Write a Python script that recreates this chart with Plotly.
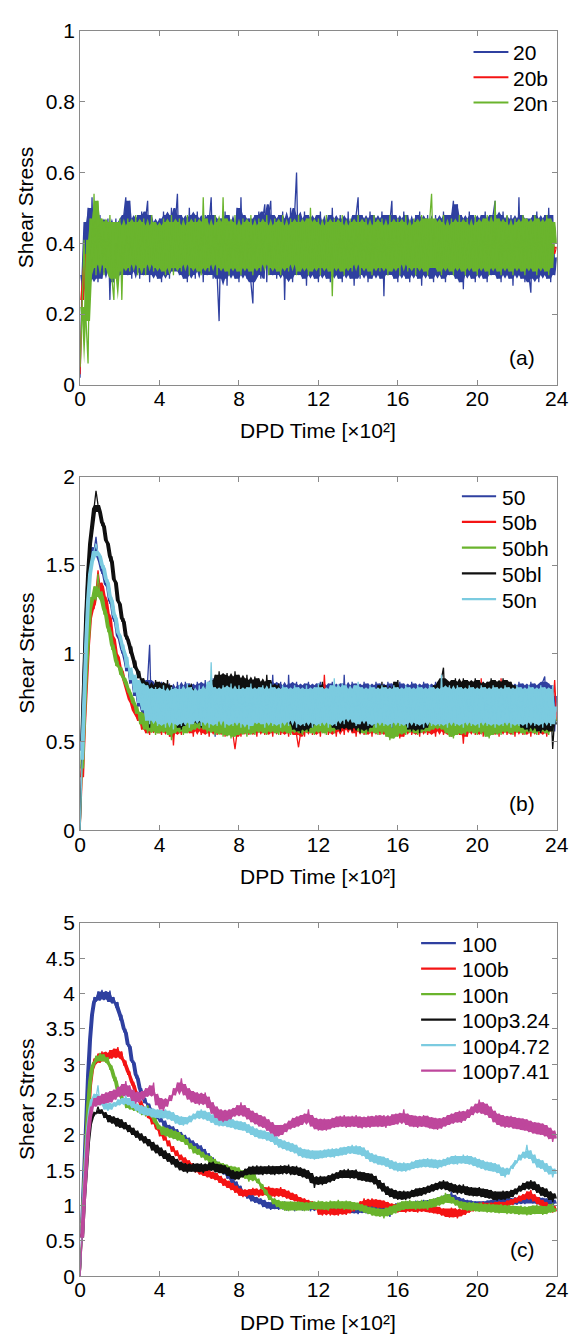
import numpy as np
import plotly.graph_objects as go

# DPD time samples (units of 10^2), one every 0.1
TIME = np.round(np.arange(241) * 0.1, 1)

# ---------------- panel (a): shear rate 20 ----------------
S20 = [
    0.02, 0.31, 0.46, 0.27, 0.50, 0.28, 0.53, 0.30, 0.47, 0.29,
    0.48, 0.30, 0.46, 0.32, 0.47, 0.24, 0.45, 0.29, 0.47, 0.31,
    0.46, 0.30, 0.48, 0.53, 0.31, 0.52, 0.30, 0.47, 0.32, 0.48,
    0.30, 0.49, 0.31, 0.47, 0.52, 0.29, 0.48, 0.31, 0.46, 0.30,
    0.47, 0.29, 0.49, 0.31, 0.48, 0.30, 0.50, 0.32, 0.46, 0.54,
    0.31, 0.48, 0.30, 0.47, 0.29, 0.50, 0.31, 0.48, 0.30, 0.49,
    0.32, 0.47, 0.29, 0.48, 0.31, 0.46, 0.53, 0.30, 0.48, 0.31,
    0.18, 0.47, 0.30, 0.49, 0.28, 0.48, 0.31, 0.46, 0.30, 0.50,
    0.29, 0.53, 0.31, 0.48, 0.30, 0.47, 0.29, 0.23, 0.48, 0.31,
    0.49, 0.30, 0.47, 0.51, 0.29, 0.48, 0.52, 0.31, 0.47, 0.30,
    0.48, 0.31, 0.49, 0.24, 0.47, 0.30, 0.50, 0.29, 0.48, 0.60,
    0.31, 0.47, 0.30, 0.49, 0.28, 0.48, 0.31, 0.47, 0.30, 0.48,
    0.29, 0.49, 0.31, 0.46, 0.30, 0.48, 0.29, 0.50, 0.31, 0.47,
    0.30, 0.48, 0.29, 0.47, 0.31, 0.49, 0.30, 0.46, 0.28, 0.48,
    0.53, 0.30, 0.48, 0.31, 0.47, 0.29, 0.49, 0.30, 0.48, 0.31,
    0.47, 0.30, 0.49, 0.25, 0.48, 0.31, 0.46, 0.52, 0.30, 0.48,
    0.29, 0.47, 0.31, 0.49, 0.30, 0.48, 0.29, 0.46, 0.31, 0.48,
    0.30, 0.49, 0.28, 0.47, 0.31, 0.48, 0.30, 0.46, 0.29, 0.48,
    0.31, 0.47, 0.30, 0.49, 0.29, 0.48, 0.31, 0.47, 0.52, 0.30,
    0.51, 0.29, 0.48, 0.27, 0.47, 0.31, 0.49, 0.30, 0.48, 0.29,
    0.47, 0.31, 0.48, 0.30, 0.49, 0.29, 0.47, 0.31, 0.48, 0.52,
    0.30, 0.48, 0.29, 0.49, 0.31, 0.47, 0.30, 0.48, 0.28, 0.47,
    0.31, 0.53, 0.30, 0.48, 0.29, 0.47, 0.31, 0.26, 0.48, 0.30,
    0.49, 0.29, 0.47, 0.31, 0.48, 0.30, 0.50, 0.29, 0.48, 0.31,
    0.36,
]
S20B = [
    0.03, 0.24, 0.37, 0.31, 0.40, 0.37, 0.41, 0.38, 0.40, 0.37,
    0.41, 0.38, 0.40, 0.37, 0.41, 0.38, 0.40, 0.37, 0.41, 0.38,
    0.40, 0.38, 0.41, 0.37, 0.40, 0.38, 0.41, 0.37, 0.40, 0.38,
    0.41, 0.37, 0.40, 0.38, 0.41, 0.37, 0.40, 0.38, 0.41, 0.37,
    0.40, 0.38, 0.41, 0.37, 0.40, 0.38, 0.41, 0.37, 0.40, 0.38,
    0.41, 0.37, 0.40, 0.38, 0.41, 0.37, 0.40, 0.38, 0.41, 0.37,
    0.40, 0.38, 0.41, 0.37, 0.40, 0.38, 0.41, 0.37, 0.40, 0.38,
    0.41, 0.37, 0.40, 0.38, 0.41, 0.37, 0.40, 0.38, 0.41, 0.37,
    0.40, 0.38, 0.41, 0.37, 0.40, 0.38, 0.41, 0.37, 0.40, 0.38,
    0.41, 0.37, 0.40, 0.38, 0.41, 0.37, 0.40, 0.38, 0.41, 0.37,
    0.40, 0.38, 0.41, 0.37, 0.40, 0.38, 0.41, 0.37, 0.40, 0.38,
    0.41, 0.37, 0.40, 0.38, 0.41, 0.37, 0.40, 0.38, 0.41, 0.37,
    0.40, 0.38, 0.41, 0.37, 0.40, 0.38, 0.41, 0.37, 0.40, 0.38,
    0.41, 0.37, 0.40, 0.38, 0.41, 0.37, 0.40, 0.38, 0.41, 0.37,
    0.40, 0.38, 0.41, 0.37, 0.40, 0.38, 0.41, 0.37, 0.40, 0.38,
    0.41, 0.37, 0.40, 0.38, 0.41, 0.37, 0.40, 0.38, 0.41, 0.37,
    0.40, 0.38, 0.41, 0.37, 0.40, 0.38, 0.41, 0.37, 0.40, 0.38,
    0.41, 0.37, 0.40, 0.38, 0.41, 0.37, 0.40, 0.38, 0.41, 0.37,
    0.40, 0.38, 0.41, 0.37, 0.40, 0.38, 0.41, 0.37, 0.40, 0.38,
    0.41, 0.37, 0.40, 0.38, 0.41, 0.37, 0.40, 0.38, 0.41, 0.37,
    0.40, 0.38, 0.41, 0.37, 0.40, 0.38, 0.41, 0.37, 0.40, 0.38,
    0.41, 0.37, 0.40, 0.38, 0.41, 0.37, 0.40, 0.38, 0.41, 0.37,
    0.40, 0.38, 0.41, 0.37, 0.40, 0.38, 0.41, 0.37, 0.40, 0.38,
    0.41, 0.37, 0.40, 0.38, 0.41, 0.37, 0.40, 0.38, 0.41, 0.37,
    0.39,
]
S20N = [
    0.05, 0.22, 0.41, 0.18, 0.06, 0.47, 0.33, 0.54, 0.31, 0.52,
    0.34, 0.47, 0.31, 0.46, 0.33, 0.48, 0.30, 0.24, 0.46, 0.32,
    0.47, 0.24, 0.45, 0.33, 0.47, 0.32, 0.46, 0.34, 0.48, 0.31,
    0.46, 0.33, 0.47, 0.31, 0.45, 0.34, 0.48, 0.32, 0.46, 0.33,
    0.45, 0.32, 0.47, 0.31, 0.46, 0.33, 0.48, 0.31, 0.46, 0.33,
    0.47, 0.32, 0.45, 0.34, 0.48, 0.31, 0.46, 0.33, 0.47, 0.32,
    0.46, 0.31, 0.53, 0.33, 0.47, 0.32, 0.45, 0.34, 0.48, 0.31,
    0.46, 0.33, 0.53, 0.32, 0.47, 0.31, 0.46, 0.33, 0.48, 0.32,
    0.45, 0.31, 0.47, 0.33, 0.46, 0.32, 0.48, 0.31, 0.45, 0.33,
    0.47, 0.32, 0.46, 0.34, 0.48, 0.31, 0.45, 0.33, 0.47, 0.32,
    0.46, 0.31, 0.48, 0.33, 0.45, 0.32, 0.47, 0.34, 0.46, 0.31,
    0.48, 0.32, 0.46, 0.33, 0.47, 0.31, 0.50, 0.32, 0.46, 0.33,
    0.47, 0.31, 0.45, 0.33, 0.48, 0.32, 0.46, 0.25, 0.47, 0.33,
    0.46, 0.32, 0.48, 0.31, 0.45, 0.33, 0.47, 0.32, 0.46, 0.34,
    0.48, 0.31, 0.46, 0.33, 0.47, 0.32, 0.45, 0.31, 0.48, 0.33,
    0.46, 0.32, 0.47, 0.33, 0.45, 0.31, 0.48, 0.32, 0.46, 0.33,
    0.47, 0.31, 0.46, 0.34, 0.48, 0.32, 0.45, 0.33, 0.47, 0.31,
    0.46, 0.33, 0.48, 0.32, 0.47, 0.31, 0.46, 0.54, 0.33, 0.47,
    0.32, 0.46, 0.31, 0.48, 0.33, 0.45, 0.32, 0.47, 0.31, 0.46,
    0.33, 0.48, 0.32, 0.46, 0.31, 0.47, 0.33, 0.45, 0.32, 0.48,
    0.31, 0.46, 0.33, 0.47, 0.32, 0.48, 0.31, 0.46, 0.33, 0.52,
    0.32, 0.47, 0.31, 0.46, 0.33, 0.48, 0.32, 0.45, 0.31, 0.47,
    0.33, 0.46, 0.32, 0.48, 0.31, 0.47, 0.33, 0.46, 0.32, 0.48,
    0.31, 0.47, 0.33, 0.46, 0.32, 0.48, 0.31, 0.47, 0.33, 0.46,
    0.40,
]

# ---------------- panel (b): shear rate 50 ----------------
S50 = [
    0.00, 0.45, 0.85, 1.15, 1.40, 1.55, 1.60, 1.58, 1.66, 1.55,
    1.52, 1.45, 1.47, 1.38, 1.39, 1.28, 1.30, 1.18, 1.20, 1.10,
    1.08, 1.00, 1.03, 0.90, 0.95, 0.83, 0.90, 0.76, 0.86, 0.70,
    0.84, 0.66, 0.82, 0.62, 0.85, 1.05, 0.60, 0.84, 0.59, 0.82,
    0.61, 0.84, 0.59, 0.82, 0.60, 0.83, 0.58, 0.81, 0.60, 0.84,
    0.59, 0.82, 0.61, 0.84, 0.58, 0.83, 0.60, 0.82, 0.59, 0.84,
    0.61, 0.83, 0.58, 0.85, 0.60, 0.82, 0.59, 0.86, 0.53, 0.83,
    0.60, 0.84, 0.58, 0.82, 0.61, 0.83, 0.59, 0.84, 0.60, 0.82,
    0.58, 0.83, 0.60, 0.84, 0.59, 0.82, 0.61, 0.83, 0.58, 0.84,
    0.60, 0.82, 0.59, 0.83, 0.61, 0.84, 0.58, 0.88, 0.60, 0.83,
    0.59, 0.84, 0.60, 0.82, 0.58, 0.88, 0.61, 0.83, 0.59, 0.84,
    0.60, 0.82, 0.58, 0.83, 0.61, 0.84, 0.59, 0.82, 0.60, 0.83,
    0.58, 0.84, 0.60, 0.82, 0.59, 0.83, 0.61, 0.84, 0.58, 0.82,
    0.60, 0.83, 0.59, 0.88, 0.61, 0.82, 0.58, 0.84, 0.60, 0.83,
    0.59, 0.82, 0.61, 0.84, 0.58, 0.83, 0.60, 0.82, 0.59, 0.84,
    0.61, 0.83, 0.58, 0.82, 0.60, 0.84, 0.59, 0.83, 0.61, 0.82,
    0.58, 0.84, 0.60, 0.83, 0.59, 0.82, 0.61, 0.84, 0.58, 0.83,
    0.60, 0.82, 0.59, 0.84, 0.61, 0.83, 0.58, 0.82, 0.60, 0.84,
    0.59, 0.83, 0.61, 0.82, 0.58, 0.84, 0.60, 0.83, 0.59, 0.82,
    0.61, 0.84, 0.58, 0.83, 0.60, 0.82, 0.59, 0.84, 0.61, 0.83,
    0.58, 0.82, 0.60, 0.84, 0.59, 0.83, 0.61, 0.82, 0.58, 0.84,
    0.60, 0.83, 0.59, 0.82, 0.61, 0.84, 0.58, 0.83, 0.60, 0.82,
    0.59, 0.84, 0.61, 0.83, 0.58, 0.82, 0.60, 0.84, 0.59, 0.83,
    0.61, 0.82, 0.58, 0.84, 0.87, 0.60, 0.83, 0.59, 0.82, 0.56,
    0.76,
]
S50B = [
    0.00, 0.30, 0.60, 0.85, 1.05, 1.20, 1.28, 1.25, 1.35, 1.47,
    1.38, 1.40, 1.30, 1.32, 1.20, 1.22, 1.10, 1.08, 1.00, 0.98,
    0.92, 0.90, 0.85, 0.82, 0.78, 0.74, 0.72, 0.68, 0.66, 0.62,
    0.64, 0.57, 0.66, 0.55, 0.65, 0.54, 0.66, 0.56, 0.65, 0.55,
    0.66, 0.54, 0.65, 0.56, 0.67, 0.53, 0.66, 0.48, 0.65, 0.55,
    0.66, 0.54, 0.64, 0.56, 0.67, 0.55, 0.65, 0.53, 0.66, 0.56,
    0.64, 0.54, 0.66, 0.55, 0.65, 0.53, 0.67, 0.56, 0.64, 0.54,
    0.66, 0.55, 0.65, 0.53, 0.67, 0.56, 0.64, 0.54, 0.46, 0.55,
    0.66, 0.53, 0.65, 0.56, 0.67, 0.54, 0.64, 0.55, 0.66, 0.53,
    0.65, 0.56, 0.67, 0.54, 0.64, 0.55, 0.66, 0.53, 0.65, 0.56,
    0.67, 0.54, 0.64, 0.55, 0.66, 0.53, 0.65, 0.56, 0.67, 0.54,
    0.47, 0.55, 0.66, 0.53, 0.65, 0.56, 0.67, 0.54, 0.64, 0.55,
    0.66, 0.53, 0.65, 0.88, 0.67, 0.54, 0.64, 0.55, 0.66, 0.53,
    0.65, 0.56, 0.67, 0.54, 0.68, 0.57, 0.69, 0.55, 0.66, 0.53,
    0.65, 0.56, 0.67, 0.54, 0.64, 0.55, 0.66, 0.53, 0.65, 0.56,
    0.67, 0.54, 0.64, 0.55, 0.66, 0.53, 0.65, 0.56, 0.67, 0.54,
    0.64, 0.52, 0.66, 0.53, 0.65, 0.56, 0.67, 0.54, 0.64, 0.55,
    0.66, 0.53, 0.65, 0.56, 0.67, 0.54, 0.64, 0.55, 0.66, 0.53,
    0.65, 0.56, 0.67, 0.54, 0.64, 0.55, 0.66, 0.53, 0.65, 0.56,
    0.67, 0.54, 0.64, 0.49, 0.66, 0.53, 0.65, 0.56, 0.67, 0.54,
    0.64, 0.55, 0.86, 0.53, 0.65, 0.56, 0.67, 0.54, 0.64, 0.55,
    0.66, 0.53, 0.86, 0.56, 0.67, 0.54, 0.64, 0.55, 0.66, 0.53,
    0.65, 0.56, 0.67, 0.54, 0.64, 0.55, 0.66, 0.53, 0.65, 0.56,
    0.67, 0.54, 0.64, 0.55, 0.66, 0.53, 0.65, 0.56, 0.67, 0.85,
    0.62,
]
S50BH = [
    0.00, 0.35, 0.65, 0.90, 1.10, 1.25, 1.32, 1.38, 1.30, 1.45,
    1.32, 1.35, 1.22, 1.25, 1.12, 1.15, 1.02, 1.05, 0.93, 0.96,
    0.88, 0.92, 0.84, 0.86, 0.78, 0.80, 0.72, 0.75, 0.66, 0.70,
    0.60, 0.67, 0.57, 0.66, 0.55, 0.67, 0.56, 0.65, 0.54, 0.66,
    0.55, 0.67, 0.56, 0.65, 0.54, 0.66, 0.51, 0.67, 0.55, 0.65,
    0.56, 0.66, 0.54, 0.67, 0.55, 0.65, 0.56, 0.68, 0.57, 0.70,
    0.58, 0.69, 0.57, 0.67, 0.55, 0.66, 0.56, 0.65, 0.54, 0.66,
    0.55, 0.67, 0.53, 0.65, 0.54, 0.66, 0.52, 0.65, 0.53, 0.67,
    0.54, 0.66, 0.55, 0.65, 0.53, 0.67, 0.55, 0.66, 0.54, 0.65,
    0.56, 0.67, 0.55, 0.66, 0.54, 0.65, 0.56, 0.67, 0.55, 0.66,
    0.54, 0.65, 0.56, 0.67, 0.55, 0.66, 0.54, 0.65, 0.56, 0.67,
    0.55, 0.66, 0.54, 0.65, 0.56, 0.67, 0.55, 0.66, 0.54, 0.65,
    0.56, 0.67, 0.55, 0.66, 0.54, 0.65, 0.56, 0.67, 0.55, 0.66,
    0.57, 0.68, 0.60, 0.70, 0.62, 0.72, 0.60, 0.69, 0.58, 0.67,
    0.56, 0.66, 0.55, 0.67, 0.54, 0.65, 0.56, 0.66, 0.55, 0.67,
    0.54, 0.65, 0.56, 0.66, 0.53, 0.64, 0.51, 0.65, 0.52, 0.64,
    0.53, 0.66, 0.55, 0.67, 0.54, 0.65, 0.56, 0.66, 0.55, 0.67,
    0.54, 0.65, 0.56, 0.66, 0.55, 0.67, 0.56, 0.68, 0.57, 0.69,
    0.58, 0.70, 0.57, 0.68, 0.55, 0.66, 0.53, 0.65, 0.52, 0.64,
    0.54, 0.66, 0.55, 0.67, 0.54, 0.65, 0.56, 0.66, 0.55, 0.67,
    0.54, 0.65, 0.56, 0.66, 0.53, 0.65, 0.52, 0.64, 0.54, 0.66,
    0.55, 0.67, 0.54, 0.65, 0.56, 0.66, 0.55, 0.67, 0.54, 0.65,
    0.56, 0.66, 0.55, 0.67, 0.54, 0.65, 0.56, 0.66, 0.55, 0.67,
    0.54, 0.65, 0.56, 0.66, 0.55, 0.67, 0.54, 0.65, 0.56, 0.66,
    0.62,
]
S50BL = [
    0.00, 0.50, 0.90, 1.20, 1.45, 1.62, 1.72, 1.82, 1.92, 1.84,
    1.80, 1.72, 1.74, 1.64, 1.62, 1.52, 1.55, 1.42, 1.40, 1.30,
    1.28, 1.18, 1.20, 1.08, 1.10, 1.00, 1.04, 0.92, 0.96, 0.86,
    0.90, 0.78, 0.86, 0.70, 0.84, 0.58, 0.82, 0.66, 0.85, 0.68,
    0.84, 0.66, 0.83, 0.65, 0.85, 0.67, 0.82, 0.64, 0.78, 0.58,
    0.76, 0.57, 0.78, 0.59, 0.82, 0.62, 0.83, 0.60, 0.80, 0.61,
    0.78, 0.58, 0.80, 0.62, 0.82, 0.64, 0.85, 0.68, 0.88, 0.70,
    0.90, 0.72, 0.88, 0.70, 0.89, 0.71, 0.87, 0.69, 0.90, 0.72,
    0.88, 0.70, 0.86, 0.68, 0.88, 0.71, 0.85, 0.69, 0.87, 0.70,
    0.86, 0.68, 0.84, 0.67, 0.88, 0.70, 0.85, 0.66, 0.82, 0.64,
    0.83, 0.65, 0.80, 0.62, 0.78, 0.60, 0.76, 0.57, 0.75, 0.56,
    0.74, 0.55, 0.75, 0.57, 0.76, 0.56, 0.78, 0.58, 0.80, 0.60,
    0.82, 0.62, 0.84, 0.64, 0.80, 0.61, 0.78, 0.58, 0.75, 0.57,
    0.74, 0.56, 0.76, 0.58, 0.77, 0.57, 0.75, 0.56, 0.76, 0.58,
    0.74, 0.55, 0.75, 0.57, 0.76, 0.56, 0.78, 0.58, 0.80, 0.60,
    0.82, 0.62, 0.84, 0.63, 0.82, 0.60, 0.80, 0.58, 0.84, 0.62,
    0.85, 0.64, 0.80, 0.60, 0.78, 0.57, 0.76, 0.56, 0.75, 0.57,
    0.76, 0.55, 0.74, 0.57, 0.78, 0.58, 0.80, 0.61, 0.82, 0.63,
    0.84, 0.65, 0.86, 0.92, 0.66, 0.84, 0.64, 0.85, 0.66, 0.86,
    0.67, 0.84, 0.65, 0.86, 0.66, 0.85, 0.64, 0.84, 0.67, 0.86,
    0.65, 0.85, 0.66, 0.83, 0.64, 0.84, 0.65, 0.86, 0.67, 0.85,
    0.66, 0.84, 0.64, 0.86, 0.65, 0.85, 0.66, 0.84, 0.63, 0.82,
    0.61, 0.80, 0.58, 0.78, 0.57, 0.76, 0.56, 0.77, 0.58, 0.75,
    0.56, 0.74, 0.55, 0.76, 0.57, 0.75, 0.56, 0.73, 0.46, 0.64,
    0.60,
]
S50N = [
    0.00, 0.40, 0.75, 1.05, 1.30, 1.45, 1.52, 1.58, 1.62, 1.57,
    1.55, 1.48, 1.50, 1.40, 1.42, 1.30, 1.32, 1.20, 1.22, 1.12,
    1.10, 1.02, 1.05, 0.92, 0.98, 0.85, 0.92, 0.78, 0.88, 0.72,
    0.85, 0.68, 0.83, 0.62, 0.82, 0.60, 0.80, 0.62, 0.81, 0.59,
    0.80, 0.60, 0.82, 0.58, 0.79, 0.61, 0.81, 0.57, 0.80, 0.60,
    0.82, 0.59, 0.80, 0.61, 0.83, 0.58, 0.81, 0.60, 0.79, 0.62,
    0.82, 0.59, 0.80, 0.61, 0.84, 0.58, 0.95, 0.60, 0.81, 0.59,
    0.80, 0.62, 0.82, 0.58, 0.81, 0.60, 0.83, 0.59, 0.80, 0.61,
    0.82, 0.58, 0.80, 0.60, 0.81, 0.57, 0.83, 0.59, 0.80, 0.61,
    0.81, 0.60, 0.82, 0.58, 0.80, 0.61, 0.83, 0.59, 0.81, 0.60,
    0.80, 0.58, 0.82, 0.61, 0.81, 0.59, 0.80, 0.62, 0.82, 0.58,
    0.81, 0.60, 0.80, 0.59, 0.82, 0.61, 0.80, 0.58, 0.81, 0.60,
    0.83, 0.59, 0.81, 0.61, 0.80, 0.58, 0.82, 0.60, 0.86, 0.59,
    0.81, 0.62, 0.83, 0.60, 0.82, 0.63, 0.80, 0.61, 0.82, 0.59,
    0.84, 0.60, 0.81, 0.62, 0.80, 0.59, 0.82, 0.60, 0.81, 0.58,
    0.80, 0.61, 0.82, 0.59, 0.81, 0.60, 0.80, 0.58, 0.82, 0.61,
    0.81, 0.59, 0.80, 0.60, 0.82, 0.58, 0.81, 0.61, 0.80, 0.59,
    0.82, 0.60, 0.81, 0.58, 0.80, 0.61, 0.82, 0.59, 0.81, 0.60,
    0.80, 0.59, 0.88, 0.60, 0.81, 0.58, 0.82, 0.61, 0.80, 0.59,
    0.82, 0.60, 0.81, 0.58, 0.80, 0.61, 0.82, 0.59, 0.81, 0.60,
    0.80, 0.58, 0.82, 0.61, 0.81, 0.59, 0.80, 0.60, 0.82, 0.58,
    0.81, 0.60, 0.80, 0.59, 0.82, 0.61, 0.81, 0.58, 0.80, 0.60,
    0.82, 0.59, 0.81, 0.60, 0.80, 0.58, 0.82, 0.61, 0.81, 0.59,
    0.80, 0.60, 0.82, 0.58, 0.81, 0.61, 0.80, 0.59, 0.82, 0.60,
    0.70,
]

# ---------------- panel (c): shear rate 100 ----------------
S100 = [
    0.00, 0.75, 1.50, 2.20, 2.85, 3.35, 3.70, 3.95, 3.88, 4.03,
    3.90, 4.05, 3.92, 4.02, 3.88, 4.04, 3.86, 3.95, 3.80, 3.88,
    3.62, 3.70, 3.45, 3.50, 3.25, 3.28, 3.02, 3.05, 2.80, 2.85,
    2.60, 2.66, 2.45, 2.52, 2.38, 2.44, 2.30, 2.36, 2.22, 2.30,
    2.18, 2.25, 2.10, 2.20, 2.05, 2.14, 2.02, 2.12, 1.98, 2.08,
    1.95, 2.04, 1.90, 2.00, 1.86, 1.96, 1.84, 1.92, 1.80, 1.88,
    1.76, 1.85, 1.72, 1.80, 1.66, 1.74, 1.60, 1.68, 1.55, 1.62,
    1.50, 1.58, 1.44, 1.52, 1.38, 1.46, 1.32, 1.40, 1.26, 1.34,
    1.20, 1.28, 1.14, 1.22, 1.10, 1.18, 1.06, 1.15, 1.04, 1.12,
    1.02, 1.10, 0.98, 1.08, 0.96, 1.05, 0.94, 1.04, 0.95, 1.05,
    0.94, 1.04, 0.96, 1.06, 0.93, 1.03, 0.95, 1.05, 0.92, 1.02,
    0.94, 1.04, 0.93, 1.03, 0.95, 1.05, 0.92, 1.02, 0.94, 1.04,
    0.91, 1.01, 0.93, 1.03, 0.90, 1.00, 0.92, 1.02, 0.91, 1.01,
    0.89, 0.99, 0.90, 1.00, 0.88, 0.98, 0.90, 1.00, 0.89, 0.99,
    0.88, 0.98, 0.90, 1.00, 0.89, 0.99, 0.91, 1.01, 0.90, 1.00,
    0.92, 1.02, 0.88, 0.98, 0.91, 1.01, 0.84, 1.00, 0.93, 1.03,
    0.94, 1.04, 0.95, 1.05, 0.96, 1.06, 0.94, 1.04, 0.97, 1.07,
    0.96, 1.06, 0.98, 1.08, 0.97, 1.07, 0.99, 1.09, 1.00, 1.10,
    1.02, 1.12, 1.04, 1.14, 1.06, 1.16, 1.08, 1.20, 1.05, 1.15,
    1.02, 1.12, 1.00, 1.10, 0.98, 1.08, 0.97, 1.07, 0.96, 1.06,
    0.95, 1.05, 0.96, 1.06, 0.97, 1.07, 0.98, 1.08, 0.99, 1.09,
    1.00, 1.10, 0.99, 1.09, 1.01, 1.11, 1.00, 1.10, 1.02, 1.12,
    1.01, 1.11, 1.03, 1.13, 1.02, 1.12, 1.04, 1.14, 1.03, 1.13,
    1.02, 1.12, 1.01, 1.11, 1.00, 1.10, 0.99, 1.09, 0.98, 1.08,
    1.03,
]
S100B = [
    0.00, 0.60, 1.20, 1.80, 2.30, 2.70, 2.92, 3.08, 3.00, 3.15,
    3.02, 3.18, 3.04, 3.16, 3.05, 3.20, 3.08, 3.22, 3.10, 3.24,
    3.08, 3.18, 2.98, 3.05, 2.85, 2.90, 2.70, 2.75, 2.55, 2.60,
    2.42, 2.48, 2.32, 2.38, 2.24, 2.30, 2.15, 2.22, 2.08, 2.15,
    1.98, 2.06, 1.92, 2.00, 1.84, 1.92, 1.76, 1.84, 1.70, 1.78,
    1.64, 1.72, 1.60, 1.68, 1.55, 1.64, 1.50, 1.60, 1.47, 1.56,
    1.44, 1.54, 1.42, 1.52, 1.40, 1.50, 1.38, 1.48, 1.36, 1.46,
    1.32, 1.42, 1.28, 1.38, 1.25, 1.35, 1.22, 1.32, 1.18, 1.28,
    1.14, 1.24, 1.12, 1.22, 1.13, 1.23, 1.15, 1.25, 1.14, 1.24,
    1.12, 1.22, 1.14, 1.26, 1.15, 1.27, 1.13, 1.25, 1.12, 1.24,
    1.14, 1.26, 1.12, 1.23, 1.10, 1.21, 1.08, 1.18, 1.06, 1.16,
    1.02, 1.12, 1.00, 1.10, 0.98, 1.08, 0.96, 1.06, 0.94, 1.04,
    0.87, 0.98, 0.86, 0.97, 0.88, 0.98, 0.86, 0.96, 0.87, 0.97,
    0.86, 0.96, 0.88, 0.98, 0.87, 0.97, 0.89, 0.99, 0.92, 1.02,
    0.96, 1.06, 0.98, 1.10, 0.97, 1.08, 0.99, 1.10, 0.98, 1.09,
    0.96, 1.08, 0.97, 1.07, 0.95, 1.05, 0.93, 1.03, 0.92, 1.02,
    0.90, 1.00, 0.91, 1.01, 0.90, 0.99, 0.92, 1.02, 0.91, 1.01,
    0.90, 1.00, 0.92, 1.02, 0.91, 1.01, 0.90, 1.00, 0.89, 0.99,
    0.88, 0.98, 0.86, 0.96, 0.84, 0.95, 0.83, 0.97, 0.84, 0.96,
    0.82, 0.94, 0.85, 0.96, 0.87, 0.98, 0.90, 1.00, 0.92, 1.02,
    0.94, 1.04, 0.95, 1.05, 0.93, 1.03, 0.94, 1.04, 0.95, 1.05,
    0.96, 1.06, 0.95, 1.05, 0.97, 1.07, 0.99, 1.09, 1.01, 1.11,
    1.04, 1.14, 1.06, 1.16, 1.08, 1.20, 1.10, 1.22, 1.06, 1.16,
    1.02, 1.12, 0.98, 1.08, 0.95, 1.05, 0.92, 1.02, 0.90, 1.00,
    0.92,
]
S100N = [
    0.00, 0.65, 1.30, 1.90, 2.40, 2.75, 2.95, 3.02, 3.12, 3.05,
    3.16, 3.04, 3.14, 3.02, 3.10, 2.92, 2.98, 2.76, 2.82, 2.60,
    2.62, 2.46, 2.52, 2.38, 2.48, 2.36, 2.46, 2.34, 2.44, 2.32,
    2.40, 2.28, 2.38, 2.26, 2.42, 2.30, 2.36, 2.18, 2.24, 2.08,
    2.14, 2.00, 2.12, 1.98, 2.10, 1.96, 2.08, 1.94, 2.06, 1.92,
    2.04, 1.90, 2.00, 1.86, 1.94, 1.80, 1.88, 1.74, 1.84, 1.72,
    1.80, 1.68, 1.76, 1.64, 1.72, 1.60, 1.70, 1.58, 1.66, 1.54,
    1.62, 1.50, 1.60, 1.47, 1.58, 1.45, 1.56, 1.44, 1.55, 1.42,
    1.54, 1.40, 1.50, 1.38, 1.46, 1.34, 1.48, 1.36, 1.45, 1.32,
    1.38, 1.24, 1.30, 1.16, 1.22, 1.08, 1.14, 1.02, 1.10, 0.98,
    1.08, 0.95, 1.06, 0.93, 1.05, 0.92, 1.06, 0.94, 1.05, 0.93,
    1.06, 0.94, 1.05, 0.92, 1.04, 0.93, 1.06, 0.95, 1.05, 0.94,
    1.07, 0.95, 1.06, 0.94, 1.05, 0.93, 1.07, 0.96, 1.06, 0.95,
    1.08, 0.96, 1.06, 0.94, 1.07, 0.95, 1.06, 0.93, 1.05, 0.94,
    1.04, 0.92, 1.02, 0.90, 1.00, 0.88, 0.98, 0.86, 0.97, 0.85,
    0.96, 0.84, 0.95, 0.82, 0.97, 0.85, 0.99, 0.87, 1.01, 0.89,
    1.04, 0.92, 1.06, 0.94, 1.07, 0.95, 1.08, 0.96, 1.06, 0.94,
    1.07, 0.95, 1.08, 0.96, 1.06, 0.94, 1.09, 0.97, 1.10, 0.98,
    1.12, 1.00, 1.14, 1.02, 1.18, 1.04, 1.16, 1.03, 1.12, 1.00,
    1.08, 0.96, 1.06, 0.94, 1.05, 0.92, 1.04, 0.93, 1.05, 0.92,
    1.03, 0.91, 1.04, 0.92, 1.02, 0.90, 1.03, 0.91, 1.02, 0.90,
    1.01, 0.89, 1.02, 0.90, 1.00, 0.88, 1.01, 0.89, 1.00, 0.88,
    0.99, 0.87, 1.00, 0.88, 0.98, 0.86, 0.99, 0.87, 1.00, 0.88,
    1.01, 0.89, 1.00, 0.87, 0.99, 0.88, 1.02, 0.90, 1.03, 0.91,
    0.96,
]
S100P324 = [
    0.00, 0.55, 1.10, 1.55, 1.90, 2.15, 2.25, 2.32, 2.30, 2.40,
    2.30, 2.36, 2.24, 2.32, 2.18, 2.28, 2.16, 2.26, 2.12, 2.24,
    2.10, 2.22, 2.08, 2.18, 2.04, 2.14, 2.00, 2.10, 1.96, 2.06,
    1.92, 2.02, 1.88, 1.98, 1.84, 1.94, 1.78, 1.90, 1.74, 1.86,
    1.70, 1.82, 1.66, 1.78, 1.62, 1.74, 1.58, 1.70, 1.54, 1.66,
    1.50, 1.62, 1.48, 1.60, 1.46, 1.58, 1.48, 1.60, 1.47, 1.59,
    1.48, 1.60, 1.46, 1.58, 1.49, 1.61, 1.50, 1.62, 1.47, 1.59,
    1.46, 1.58, 1.45, 1.57, 1.42, 1.54, 1.38, 1.50, 1.36, 1.48,
    1.37, 1.49, 1.40, 1.52, 1.43, 1.55, 1.44, 1.56, 1.45, 1.57,
    1.44, 1.56, 1.43, 1.55, 1.45, 1.57, 1.44, 1.56, 1.43, 1.55,
    1.45, 1.57, 1.44, 1.56, 1.46, 1.58, 1.43, 1.55, 1.44, 1.56,
    1.42, 1.54, 1.40, 1.52, 1.38, 1.50, 1.32, 1.46, 1.25, 1.40,
    1.30, 1.42, 1.29, 1.41, 1.31, 1.43, 1.33, 1.45, 1.35, 1.47,
    1.38, 1.50, 1.39, 1.51, 1.40, 1.52, 1.38, 1.50, 1.39, 1.51,
    1.36, 1.48, 1.35, 1.47, 1.34, 1.46, 1.33, 1.45, 1.30, 1.42,
    1.24, 1.36, 1.20, 1.32, 1.15, 1.27, 1.12, 1.24, 1.10, 1.22,
    1.08, 1.20, 1.09, 1.21, 1.08, 1.20, 1.10, 1.22, 1.12, 1.24,
    1.13, 1.25, 1.14, 1.26, 1.16, 1.28, 1.18, 1.30, 1.20, 1.32,
    1.22, 1.34, 1.24, 1.36, 1.22, 1.34, 1.20, 1.32, 1.18, 1.30,
    1.16, 1.28, 1.18, 1.30, 1.15, 1.27, 1.14, 1.26, 1.13, 1.25,
    1.14, 1.26, 1.12, 1.24, 1.11, 1.23, 1.10, 1.22, 1.08, 1.20,
    1.07, 1.19, 1.09, 1.21, 1.08, 1.20, 1.10, 1.22, 1.12, 1.24,
    1.16, 1.28, 1.20, 1.32, 1.22, 1.34, 1.24, 1.36, 1.22, 1.34,
    1.18, 1.30, 1.14, 1.26, 1.12, 1.24, 1.08, 1.20, 1.05, 1.17,
    1.10,
]
S100P472 = [
    0.00, 0.60, 1.20, 1.70, 2.10, 2.35, 2.50, 2.58, 2.52, 2.70,
    2.42, 2.48, 2.36, 2.46, 2.34, 2.44, 2.36, 2.46, 2.40, 2.50,
    2.42, 2.52, 2.44, 2.56, 2.42, 2.52, 2.38, 2.48, 2.34, 2.44,
    2.30, 2.42, 2.28, 2.40, 2.27, 2.38, 2.25, 2.37, 2.24, 2.36,
    2.23, 2.35, 2.24, 2.36, 2.22, 2.34, 2.20, 2.32, 2.16, 2.28,
    2.14, 2.26, 2.13, 2.25, 2.15, 2.27, 2.18, 2.30, 2.22, 2.34,
    2.24, 2.36, 2.22, 2.34, 2.20, 2.32, 2.17, 2.29, 2.14, 2.26,
    2.12, 2.24, 2.13, 2.25, 2.11, 2.23, 2.10, 2.22, 2.08, 2.20,
    2.07, 2.19, 2.06, 2.18, 2.03, 2.15, 2.00, 2.12, 1.97, 2.09,
    1.95, 2.07, 1.94, 2.06, 1.92, 2.04, 1.90, 2.02, 1.86, 1.98,
    1.82, 1.94, 1.80, 1.92, 1.78, 1.90, 1.76, 1.88, 1.74, 1.86,
    1.70, 1.82, 1.68, 1.80, 1.67, 1.79, 1.66, 1.78, 1.65, 1.77,
    1.66, 1.78, 1.67, 1.79, 1.68, 1.80, 1.69, 1.81, 1.68, 1.80,
    1.70, 1.82, 1.71, 1.83, 1.72, 1.84, 1.74, 1.86, 1.73, 1.85,
    1.72, 1.84, 1.70, 1.82, 1.66, 1.78, 1.62, 1.74, 1.60, 1.72,
    1.58, 1.70, 1.57, 1.69, 1.55, 1.67, 1.52, 1.64, 1.50, 1.62,
    1.48, 1.60, 1.49, 1.61, 1.48, 1.60, 1.50, 1.62, 1.52, 1.64,
    1.53, 1.65, 1.54, 1.66, 1.55, 1.67, 1.54, 1.66, 1.53, 1.65,
    1.52, 1.64, 1.54, 1.66, 1.56, 1.68, 1.58, 1.70, 1.59, 1.71,
    1.58, 1.70, 1.60, 1.72, 1.59, 1.71, 1.58, 1.70, 1.56, 1.68,
    1.54, 1.66, 1.52, 1.64, 1.50, 1.62, 1.49, 1.61, 1.48, 1.60,
    1.46, 1.58, 1.42, 1.54, 1.40, 1.52, 1.44, 1.56, 1.52, 1.64,
    1.60, 1.72, 1.64, 1.76, 1.68, 1.86, 1.66, 1.78, 1.60, 1.72,
    1.54, 1.66, 1.52, 1.64, 1.48, 1.60, 1.44, 1.56, 1.40, 1.52,
    1.45,
]
S100P741 = [
    0.00, 0.55, 1.10, 1.60, 2.00, 2.25, 2.40, 2.52, 2.40, 2.55,
    2.42, 2.58, 2.44, 2.60, 2.45, 2.62, 2.46, 2.64, 2.50, 2.68,
    2.54, 2.72, 2.56, 2.76, 2.54, 2.70, 2.48, 2.64, 2.44, 2.60,
    2.46, 2.62, 2.50, 2.66, 2.54, 2.70, 2.56, 2.74, 2.42, 2.58,
    2.36, 2.52, 2.34, 2.50, 2.40, 2.56, 2.48, 2.66, 2.56, 2.74,
    2.62, 2.80, 2.56, 2.72, 2.50, 2.66, 2.46, 2.62, 2.44, 2.60,
    2.42, 2.58, 2.44, 2.60, 2.38, 2.54, 2.30, 2.46, 2.24, 2.40,
    2.20, 2.36, 2.18, 2.34, 2.20, 2.36, 2.22, 2.38, 2.26, 2.42,
    2.28, 2.46, 2.26, 2.42, 2.22, 2.38, 2.18, 2.34, 2.15, 2.31,
    2.12, 2.28, 2.10, 2.26, 2.06, 2.22, 2.02, 2.18, 1.98, 2.14,
    1.98, 2.14, 2.00, 2.16, 2.04, 2.20, 2.08, 2.24, 2.10, 2.26,
    2.12, 2.28, 2.14, 2.30, 2.18, 2.36, 2.12, 2.28, 2.08, 2.24,
    2.06, 2.22, 2.07, 2.23, 2.06, 2.22, 2.08, 2.24, 2.10, 2.26,
    2.11, 2.27, 2.12, 2.28, 2.10, 2.26, 2.11, 2.27, 2.12, 2.28,
    2.10, 2.26, 2.09, 2.25, 2.11, 2.27, 2.10, 2.26, 2.12, 2.28,
    2.11, 2.27, 2.12, 2.28, 2.10, 2.26, 2.13, 2.29, 2.14, 2.30,
    2.15, 2.31, 2.18, 2.36, 2.14, 2.30, 2.12, 2.28, 2.11, 2.27,
    2.10, 2.26, 2.12, 2.28, 2.11, 2.27, 2.09, 2.25, 2.08, 2.24,
    2.07, 2.23, 2.09, 2.25, 2.12, 2.28, 2.14, 2.30, 2.16, 2.32,
    2.18, 2.34, 2.17, 2.33, 2.20, 2.36, 2.24, 2.40, 2.28, 2.44,
    2.32, 2.50, 2.30, 2.46, 2.28, 2.44, 2.24, 2.40, 2.18, 2.34,
    2.14, 2.30, 2.12, 2.28, 2.10, 2.26, 2.11, 2.27, 2.09, 2.25,
    2.08, 2.24, 2.07, 2.23, 2.06, 2.22, 2.04, 2.20, 2.02, 2.18,
    2.01, 2.17, 2.00, 2.16, 1.98, 2.14, 1.94, 2.10, 1.90, 2.06,
    1.95,
]

# series names, colours and tick labels per panel
NAMES_A = ["20", "20b", "20n"]
NAMES_B = ["50", "50b", "50bh", "50bl", "50n"]
NAMES_C = ["100", "100b", "100n", "100p3.24", "100p4.72", "100p7.41"]
X_TICKS = [0, 4, 8, 12, 16, 20, 24]
Y_TICKS_A = [0, 0.2, 0.4, 0.6, 0.8, 1]
Y_TICKS_B = [0, 0.5, 1, 1.5, 2]
Y_TICKS_C = [0, 0.5, 1, 1.5, 2, 2.5, 3, 3.5, 4, 4.5, 5]
X_TITLE = "DPD Time [\u00d710\u00b2]"
Y_TITLE = "Shear Stress"

BLUE, RED, GREEN = "#2F40A0", "#F41414", "#6AB42D"
BLACK, CYAN, MAGENTA = "#101010", "#7BCBE0", "#BE479C"
FRAME = "#8A8A8A"
FONT = "Liberation Sans, Arial, Helvetica, sans-serif"

PANELS = [
    dict(series=[S20, S20B, S20N], names=NAMES_A, colors=[BLUE, RED, GREEN],
         yticks=Y_TICKS_A, yrange=[0, 1], tag="(a)"),
    dict(series=[S50, S50B, S50BH, S50BL, S50N], names=NAMES_B,
         colors=[BLUE, RED, GREEN, BLACK, CYAN],
         yticks=Y_TICKS_B, yrange=[0, 2], tag="(b)"),
    dict(series=[S100, S100B, S100N, S100P324, S100P472, S100P741],
         names=NAMES_C, colors=[BLUE, RED, GREEN, BLACK, CYAN, MAGENTA],
         yticks=Y_TICKS_C, yrange=[0, 5], tag="(c)"),
]
for p in PANELS:
    for s in p["series"]:
        assert len(s) == len(TIME), len(s)

# page geometry (pixels)
W, H = 580, 1342
X_LEFT, X_RIGHT = 76.5, 568.3
FRAMES_Y = [(19.3, 379.3), (472.7, 832.7), (926.7, 1286.3)]
LEGEND_GEOM = [  # line start, line end, text x, first row y, row step
    (482.5, 518.5, 521.5, 40.7, 25.7),
    (470.5, 505.8, 509.8, 492.7, 26.15),
    (428.4, 464.3, 468.8, 947.3, 25.95),
]


def px(x):
    return x / W


def py(y):
    return 1 - y / H


def noise_core(vals):
    """Inner band of a noisy signal: 2nd largest / 2nd smallest sample
    of each 5-sample window (isolated spikes are left to the line)."""
    v = np.asarray(vals, dtype=float)
    hi, lo = np.empty_like(v), np.empty_like(v)
    for i in range(len(v)):
        w = np.sort(v[max(0, i - 2): i + 3])
        hi[i], lo[i] = w[-2], w[1]
    return hi, lo


fig = go.Figure()
shapes, annotations = [], []
layout = dict(
    width=W, height=H, margin=dict(l=0, r=0, t=0, b=0),
    paper_bgcolor="white", plot_bgcolor="white", showlegend=False,
    font=dict(family=FONT, size=21, color="black"),
)

for i, p in enumerate(PANELS):
    k = "" if i == 0 else str(i + 1)
    top, bottom = FRAMES_Y[i]
    for vals, name, color in zip(p["series"], p["names"], p["colors"]):
        hi, lo = noise_core(vals)
        # solid core of the fluctuating signal
        fig.add_trace(go.Scatter(
            x=np.concatenate([TIME, TIME[::-1]]),
            y=np.concatenate([hi, lo[::-1]]),
            mode="lines", fill="toself", fillcolor=color,
            line=dict(width=0), name=name,
            xaxis="x" + k, yaxis="y" + k, hoverinfo="skip",
        ))
        # the raw signal with its spikes
        fig.add_trace(go.Scatter(
            x=TIME, y=vals, name=name, mode="lines",
            line=dict(color=color, width=1.3, simplify=False),
            xaxis="x" + k, yaxis="y" + k, hoverinfo="skip",
        ))
    common = dict(
        showline=True, linecolor=FRAME, linewidth=1, mirror="ticks",
        ticks="inside", ticklen=5, tickwidth=1, tickcolor=FRAME,
        showgrid=False, zeroline=False, ticklabeloverflow="allow",
        tickfont=dict(family=FONT, size=21, color="black"),
    )
    layout["xaxis" + k] = dict(
        common, domain=[px(X_LEFT), px(X_RIGHT)], range=[0, 24],
        tickmode="array", tickvals=X_TICKS, anchor="y" + k,
        ticklabelstandoff=-5,
    )
    layout["yaxis" + k] = dict(
        common, domain=[py(bottom), py(top)], range=p["yrange"],
        tickmode="array", tickvals=p["yticks"], anchor="x" + k,
        ticklabelstandoff=0,
    )
    # axis titles and panel tag
    annotations.append(dict(
        text=X_TITLE, xref="paper", yref="paper",
        x=px((X_LEFT + X_RIGHT) / 2), y=py(bottom + 46.7),
        xanchor="center", yanchor="middle", showarrow=False,
        font=dict(size=21),
    ))
    annotations.append(dict(
        text=Y_TITLE, xref="paper", yref="paper", textangle=-90,
        x=px(21), y=py((top + bottom) / 2),
        xanchor="center", yanchor="middle", showarrow=False,
        font=dict(size=21),
    ))
    annotations.append(dict(
        text=p["tag"], xref="paper", yref="paper",
        x=px(532.6), y=py(bottom - 27.6),
        xanchor="center", yanchor="middle", showarrow=False,
        font=dict(size=21),
    ))
    # legend: short line sample + label for each series
    x0, x1, xt, y0, dy = LEGEND_GEOM[i]
    for j, (name, color) in enumerate(zip(p["names"], p["colors"])):
        yy = y0 + j * dy
        shapes.append(dict(
            type="line", xref="paper", yref="paper",
            x0=px(x0), x1=px(x1), y0=py(yy), y1=py(yy),
            line=dict(color=color, width=2.2),
        ))
        annotations.append(dict(
            text=name, xref="paper", yref="paper", x=px(xt), y=py(yy + 1),
            xanchor="left", yanchor="middle", showarrow=False,
            font=dict(size=21),
        ))

layout["shapes"] = shapes
layout["annotations"] = annotations
fig.update_layout(**layout)
fig.write_html("out.html")
